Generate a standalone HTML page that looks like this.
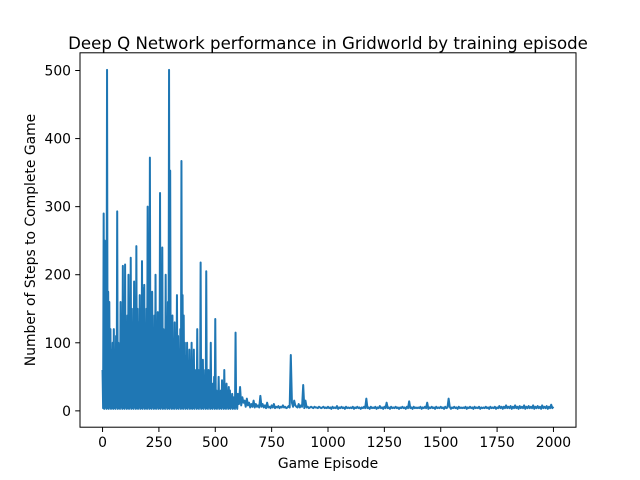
<!DOCTYPE html>
<html><head><meta charset="utf-8"><style>
body{margin:0;background:#fff;}
svg{display:block;font-family:"DejaVu Sans","Liberation Sans",sans-serif;}
</style></head><body>
<svg id="chart" width="640" height="480">
<rect width="640" height="480" fill="#fff"/>
<text x="328" y="49" font-size="16.6" text-anchor="middle">Deep Q Network performance in Gridworld by training episode</text>
<g id="plot"></g>
<rect x="80" y="52.8" width="496" height="374.4" fill="none" stroke="#000" stroke-width="1"/>
<g id="xt"></g><g id="yt"></g>
<text x="328" y="468" font-size="13.9" text-anchor="middle">Game Episode</text>
<text transform="translate(35,240) rotate(-90)" font-size="13.9" text-anchor="middle">Number of Steps to Complete Game</text>
</svg>
<script>
// episodes 0..600 sampled every 2.5
const earlyStep = 2.5;
const earlySteps = [
60,4,290,3,250,5,100,3,501,4,175,3,160,5,120,3,90,4,100,3,
120,4,80,3,110,5,293,3,100,4,90,3,160,5,120,3,213,4,140,3,
215,5,110,3,140,4,200,3,120,5,225,3,150,4,110,3,190,5,120,3,
242,4,150,3,130,5,170,3,140,4,220,3,180,5,185,3,120,4,150,3,
300,5,120,3,372,4,150,3,175,5,120,3,140,4,200,3,110,5,145,3,
130,4,320,3,150,5,240,3,120,4,90,3,200,5,110,3,160,4,501,3,
353,5,120,3,140,4,100,3,130,5,80,3,170,4,110,3,90,5,120,3,
367,4,170,3,140,5,100,3,80,4,100,3,60,5,90,3,70,4,100,3,
55,4,90,3,60,5,45,3,120,4,60,3,50,5,218,3,60,4,75,3,
40,5,60,3,205,4,30,3,60,5,40,3,100,4,35,3,40,5,50,3,
135,4,30,3,20,5,50,3,25,4,30,3,45,5,30,3,60,4,25,3,
40,5,22,3,35,4,30,3,20,5,25,3,20,4,15,3,115,5,20,3,
25];
// episodes 605..2000 sampled every 5
const lateStart = 605;
const lateStep = 5;
const lateSteps = [
10,35,8,20,12,15,6,18,8,12,5,10,6,15,5,10,6,8,5,
22,6,10,5,8,4,12,5,6,4,8,5,10,4,6,5,7,4,6,5,
8,5,6,4,5,7,5,82,12,6,15,8,6,5,10,5,8,6,38,4,
15,5,6,4,5,6,5,4,6,5,5,4,6,5,4,5,6,4,5,4,
6,4,5,3,6,4,5,4,7,3,5,4,6,4,5,3,6,4,5,4,
5,4,6,3,5,4,6,4,5,3,5,4,6,4,18,4,5,3,6,4,
5,4,6,3,5,4,7,4,5,3,6,4,12,4,5,3,6,4,5,4,
6,4,5,3,5,4,6,4,5,3,6,4,14,4,5,3,6,4,5,4,
5,4,6,3,5,4,6,4,12,3,5,4,6,4,5,3,6,4,5,4,
6,4,5,3,6,4,5,18,6,3,5,4,6,4,5,3,6,4,5,4,
5,4,6,3,5,4,6,4,5,3,6,4,5,4,6,3,5,4,5,4,
6,4,5,3,6,4,5,4,6,3,5,4,7,4,6,3,6,4,8,4,
6,4,7,3,6,4,8,4,6,3,7,4,6,4,8,3,6,4,7,4,
6,4,8,3,6,4,7,4,6,3,8,4,6,4,7,3,6,4,9,4,
6];
const xTicks = [0,250,500,750,1000,1250,1500,1750,2000];
const yTicks = [0,100,200,300,400,500];
const xs = v => 80 + (v + 100) / 2200 * 496;
const ys = v => 427.2 - (v + 24) / 550 * 374.4;
const NS = "http://www.w3.org/2000/svg";
const pts = [];
earlySteps.forEach((v,i)=>pts.push([i*earlyStep, v]));
lateSteps.forEach((v,i)=>pts.push([lateStart + i*lateStep, v]));
let d = "";
pts.forEach((p,i)=>{ d += (i?"L":"M") + xs(p[0]).toFixed(2) + "," + ys(p[1]).toFixed(2); });
const line = document.createElementNS(NS,"path");
line.setAttribute("d", d);
line.setAttribute("fill","none");
line.setAttribute("stroke","#1f77b4");
line.setAttribute("stroke-width","2");
line.setAttribute("stroke-linejoin","round");


document.getElementById("plot").appendChild(line);
const xt = document.getElementById("xt");
xTicks.forEach(t=>{
  const x = xs(t);
  const l = document.createElementNS(NS,"line");
  l.setAttribute("x1",x);l.setAttribute("x2",x);l.setAttribute("y1",427.2);l.setAttribute("y2",432);
  l.setAttribute("stroke","#000");
  
  
  xt.appendChild(l);
  const tx = document.createElementNS(NS,"text");
  tx.setAttribute("x",x);tx.setAttribute("y",447);tx.setAttribute("font-size","13.9");tx.setAttribute("text-anchor","middle");
  tx.textContent = t;
  
  
  xt.appendChild(tx);
});
const yt = document.getElementById("yt");
yTicks.forEach(t=>{
  const y = ys(t);
  const l = document.createElementNS(NS,"line");
  l.setAttribute("x1",75.2);l.setAttribute("x2",80);l.setAttribute("y1",y);l.setAttribute("y2",y);
  l.setAttribute("stroke","#000");
  
  
  yt.appendChild(l);
  const tx = document.createElementNS(NS,"text");
  tx.setAttribute("x",71);tx.setAttribute("y",y+5);tx.setAttribute("font-size","13.9");tx.setAttribute("text-anchor","end");
  tx.textContent = t;
  
  
  yt.appendChild(tx);
});
</script>
</body></html>
